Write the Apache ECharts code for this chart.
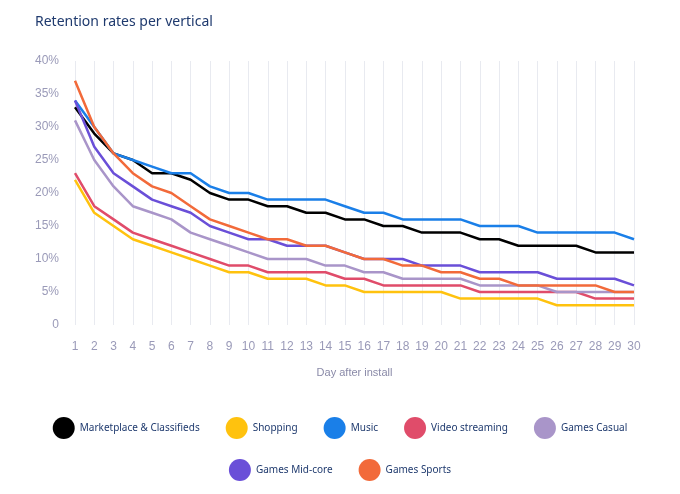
<!DOCTYPE html><html><head><meta charset="utf-8"><script src="https://cdn.jsdelivr.net/npm/echarts@6/dist/echarts.min.js"></script></head><body style="margin:0"><div id="c" style="width:680px;height:494px"></div><script>
const days=[];for(let i=1;i<=30;i++)days.push(String(i));
const marketplace=[33,29,26,25,23,23,22,20,19,19,18,18,17,17,16,16,15,15,14,14,14,13,13,12,12,12,12,11,11,11];
const shopping=[22,17,15,13,12,11,10,9,8,8,7,7,7,6,6,5,5,5,5,5,4,4,4,4,4,3,3,3,3,3];
const music=[34,30,26,25,24,23,23,21,20,20,19,19,19,19,18,17,17,16,16,16,16,15,15,15,14,14,14,14,14,13];
const video=[23,18,16,14,13,12,11,10,9,9,8,8,8,8,7,7,6,6,6,6,6,5,5,5,5,5,5,4,4,4];
const casual=[31,25,21,18,17,16,14,13,12,11,10,10,10,9,9,8,8,7,7,7,7,6,6,6,6,5,5,5,5,5];
const midcore=[34,27,23,21,19,18,17,15,14,13,13,12,12,12,11,10,10,10,9,9,9,8,8,8,8,7,7,7,7,6];
const sports=[37,30,26,23,21,20,18,16,15,14,13,13,12,12,11,10,10,9,9,8,8,7,7,6,6,6,6,6,5,5];
const names=['Marketplace & Classifieds','Shopping','Music','Video streaming','Games Casual','Games Mid-core','Games Sports'];
const data=[marketplace,shopping,music,video,casual,midcore,sports];
const colors=['#000000','#ffc20e','#1a7fe8','#e04c6a','#a995c9','#6a4fd8','#f26a3a'];
const lg={icon:'circle',itemWidth:22,itemHeight:22,itemGap:26,textStyle:{color:'#1f3a6e',fontSize:10,fontFamily:'Noto Sans'}};
const chart=echarts.init(document.getElementById('c'));
chart.setOption({
title:{text:'Retention rates per vertical',left:30,top:10,textStyle:{color:'#1f3a6e',fontSize:14,fontWeight:'normal',fontFamily:'Noto Sans'}},
color:colors,
legend:[Object.assign({data:names.slice(0,5),top:412,left:'center'},lg),Object.assign({data:names.slice(5),top:454,left:'center'},lg)],
grid:{left:75,right:46,top:61,bottom:169},
xAxis:{type:'category',data:days,boundaryGap:false,name:'Day after install',nameLocation:'middle',nameGap:42,nameTextStyle:{color:'#8a8aa8',fontSize:11},
axisLine:{show:false},axisTick:{show:false},axisLabel:{color:'#9a9ab8',fontSize:12,margin:16},splitLine:{show:true,lineStyle:{color:'#e8eaf0'}}},
yAxis:{type:'value',min:0,max:40,interval:5,axisLabel:{formatter:v=>v===0?'0':v+'%',color:'#9a9ab8',fontSize:12,margin:16},splitLine:{show:false},axisLine:{show:false},axisTick:{show:false}},
series:names.map((n,i)=>({name:n,type:'line',data:data[i],symbol:'none',lineStyle:{width:2.5}}))
});
</script></body></html>
